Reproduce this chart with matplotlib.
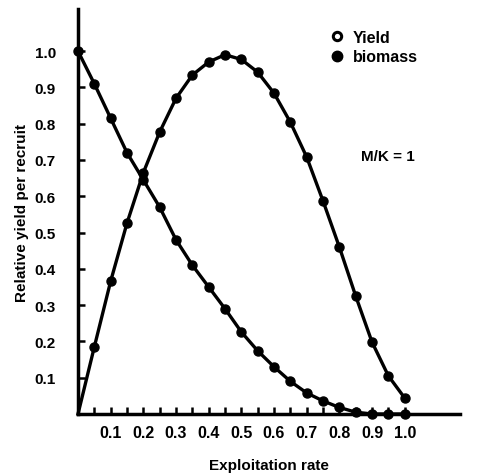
import numpy as np
import matplotlib
matplotlib.use("Agg")
import matplotlib.pyplot as plt
from matplotlib.lines import Line2D

plt.rcParams['font.family'] = ['Liberation Sans', 'DejaVu Sans']
plt.rcParams['font.weight'] = 'bold'

# exploitation rate, every 0.05
exploit = [0.0, 0.05, 0.1, 0.15, 0.2, 0.25, 0.3, 0.35, 0.4, 0.45, 0.5,
           0.55, 0.6, 0.65, 0.7, 0.75, 0.8, 0.85, 0.9, 0.95, 1.0]
yield_rel = [0.0, 0.185, 0.366, 0.526, 0.665, 0.777, 0.87, 0.934, 0.97, 0.99, 0.977,
             0.942, 0.884, 0.804, 0.708, 0.587, 0.46, 0.325, 0.198, 0.105, 0.044]
biomass_rel = [1.0, 0.91, 0.815, 0.72, 0.645, 0.57, 0.48, 0.41, 0.35, 0.29, 0.226,
               0.174, 0.13, 0.09, 0.058, 0.036, 0.018, 0.005, 0.0, 0.0, 0.0]

x_ticks = [0.1, 0.2, 0.3, 0.4, 0.5, 0.6, 0.7, 0.8, 0.9, 1.0]
y_ticks = [0.1, 0.2, 0.3, 0.4, 0.5, 0.6, 0.7, 0.8, 0.9, 1.0]

fig = plt.figure(figsize=(4.8, 4.77), dpi=100)
ax = fig.add_axes([0.1625, 0.13, 0.795, 0.849])

ax.plot(exploit, yield_rel, color="black", linewidth=2.4, marker="o",
        markersize=6.5, markevery=list(range(1, len(exploit))), clip_on=False)
ax.plot(exploit, biomass_rel, color="black", linewidth=2.4, marker="o",
        markersize=6.5, clip_on=False)

ax.set_xlim(0, 1.168)
ax.set_ylim(0, 1.116)

for side in ["top", "right"]:
    ax.spines[side].set_visible(False)
for side in ["left", "bottom"]:
    ax.spines[side].set_linewidth(2.5)

ax.set_xticks(np.arange(0.05, 1.01, 0.05), minor=True)
ax.set_xticks(x_ticks)
ax.set_xticklabels(["%.1f" % v for v in x_ticks], fontsize=11.5, fontweight="bold")
ax.set_yticks(y_ticks)
ax.set_yticklabels(["%.1f" % v for v in y_ticks], fontsize=11, fontweight="bold")
ax.tick_params(axis="x", which="both", direction="in", length=5, width=1.8, pad=8)
ax.tick_params(axis="y", direction="in", length=5, width=1.8, pad=16)

ax.set_xlabel("Exploitation rate", fontsize=11, fontweight="bold", labelpad=13)
ax.set_ylabel("Relative yield per recruit", fontsize=11, fontweight="bold", labelpad=4)

handles = [
    Line2D([], [], linestyle="none", marker="o", markersize=6, markerfacecolor="white",
           markeredgecolor="black", markeredgewidth=2.2),
    Line2D([], [], linestyle="none", marker="o", markersize=7.5, color="black"),
]
ax.legend(handles, ["Yield", "biomass"], loc="upper left", bbox_to_anchor=(0.64, 0.965),
          frameon=False, fontsize=11.5, handletextpad=0.5, labelspacing=0.3,
          handlelength=1.0, borderaxespad=0)

ax.text(0.948, 0.71, "M/K = 1", fontsize=11, fontweight="bold", ha="center", va="center")

fig.savefig("out.png", dpi=100)
